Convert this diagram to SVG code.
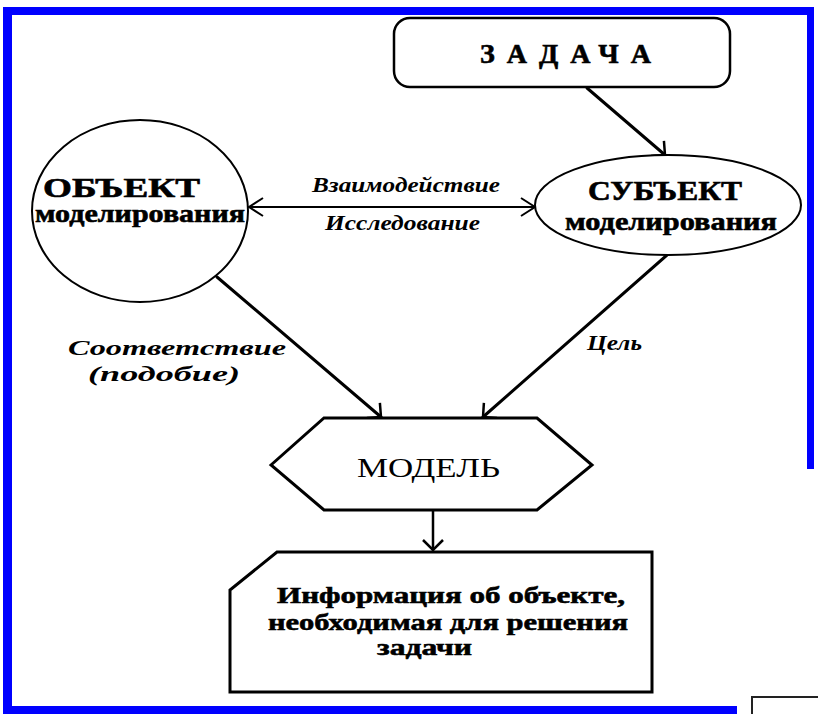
<svg xmlns="http://www.w3.org/2000/svg" width="818" height="714" viewBox="0 0 818 714">
  <style>
    .frame { fill: #0000ff; }
    .shape { fill: #ffffff; stroke: #000000; }
    .node { font-family: "Liberation Serif", "Times New Roman", serif; font-weight: bold; fill: #000000; stroke: #000000; stroke-width: 0.6; }
    .lbl { font-family: "Liberation Serif", "Times New Roman", serif; font-weight: bold; font-style: italic; fill: #000000; font-size: 21px; }
    .conn { stroke: #000000; fill: none; stroke-linecap: round; }
  </style>
  <defs>
    <marker id="ah45" markerUnits="userSpaceOnUse" viewBox="-16 -16 32 32" markerWidth="32" markerHeight="32" refX="0" refY="0" orient="auto">
      <path d="M-10,-10 L0,0 L-10,10" fill="none" stroke="#000" stroke-width="2.5"/>
    </marker>
    <marker id="ahH" markerUnits="userSpaceOnUse" viewBox="-16 -16 32 32" markerWidth="32" markerHeight="32" refX="0" refY="0" orient="auto-start-reverse">
      <path d="M-14,-9 L0,0 L-14,9" fill="none" stroke="#000" stroke-width="2"/>
    </marker>
  </defs>

  <rect width="818" height="714" fill="#ffffff"/>

  <g id="frame">
    <rect class="frame" x="3" y="7" width="811" height="8"/>
    <rect class="frame" x="3" y="7" width="9" height="707"/>
    <rect class="frame" x="807" y="7" width="7" height="462"/>
    <rect class="frame" x="3" y="706" width="734" height="8"/>
    <path d="M752,714 V697 H818" fill="none" stroke="#222" stroke-width="2"/>
  </g>

  <g id="connectors">
    <line class="conn" x1="587" y1="88" x2="665" y2="155" stroke-width="3" marker-end="url(#ah45)"/>
    <line class="conn" x1="249" y1="207" x2="535" y2="207" stroke-width="2" marker-start="url(#ahH)" marker-end="url(#ahH)"/>
    <line class="conn" x1="217" y1="277" x2="381" y2="417" stroke-width="3" marker-end="url(#ah45)"/>
    <line class="conn" x1="667" y1="255" x2="483" y2="417" stroke-width="3" marker-end="url(#ah45)"/>
    <line class="conn" x1="433" y1="511" x2="433" y2="550" stroke-width="2.5" marker-end="url(#ah45)"/>
    <text class="lbl" x="312" y="192" textLength="188" lengthAdjust="spacingAndGlyphs">Взаимодействие</text>
    <text class="lbl" x="325" y="230" textLength="155" lengthAdjust="spacingAndGlyphs">Исследование</text>
    <text class="lbl" x="68" y="355" textLength="218" lengthAdjust="spacingAndGlyphs">Соответствие</text>
    <text class="lbl" x="88" y="381" textLength="152" lengthAdjust="spacingAndGlyphs">(подобие)</text>
    <text class="lbl" x="587" y="350" textLength="55" lengthAdjust="spacingAndGlyphs">Цель</text>
  </g>

  <g id="task">
    <rect class="shape" x="394" y="18" width="336" height="69" rx="16" stroke-width="2.5"/>
    <text class="node" x="480" y="63" font-size="28" letter-spacing="12">ЗАДАЧА</text>
  </g>

  <g id="object">
    <ellipse class="shape" cx="140" cy="211" rx="108" ry="91" stroke-width="2"/>
    <text class="node" x="43" y="197" font-size="27" textLength="157" lengthAdjust="spacingAndGlyphs">ОБЪЕКТ</text>
    <text class="node" x="35" y="222" font-size="25" textLength="210" lengthAdjust="spacingAndGlyphs">моделирования</text>
  </g>

  <g id="subject">
    <ellipse class="shape" cx="668" cy="205" rx="133" ry="50" stroke-width="2"/>
    <text class="node" x="588" y="200" font-size="27" textLength="154" lengthAdjust="spacingAndGlyphs">СУБЪЕКТ</text>
    <text class="node" x="565" y="230" font-size="25" textLength="212" lengthAdjust="spacingAndGlyphs">моделирования</text>
  </g>

  <g id="model">
    <polygon class="shape" points="271,465 324,418 537,418 592,465 537,510 324,510" stroke-width="3"/>
    <text x="357" y="477" font-family="Liberation Serif, 'Times New Roman', serif" font-size="28" textLength="143" lengthAdjust="spacingAndGlyphs">МОДЕЛЬ</text>
  </g>

  <g id="info">
    <polygon class="shape" points="277,552 652,552 652,692 230,692 230,590" stroke-width="3"/>
    <text class="node" x="277" y="603" font-size="24" textLength="348" lengthAdjust="spacingAndGlyphs">Информация об объекте,</text>
    <text class="node" x="268" y="630" font-size="24" textLength="360" lengthAdjust="spacingAndGlyphs">необходимая для решения</text>
    <text class="node" x="377" y="655" font-size="24" textLength="95" lengthAdjust="spacingAndGlyphs">задачи</text>
  </g>
</svg>
